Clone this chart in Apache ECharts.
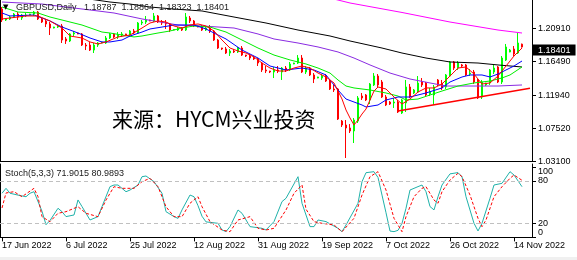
<!DOCTYPE html>
<html><head><meta charset="utf-8">
<script src="https://cdn.jsdelivr.net/npm/echarts@6/dist/echarts.min.js"></script>
<style>html,body{margin:0;padding:0;background:#fff;overflow:hidden}#c{width:577px;height:260px}</style>
</head><body><div id="c"></div>
<script>
const symbolName = 'GBPUSD,Daily';
const openP = [1.2349,1.2202,1.2216,1.2242,1.2282,1.2229,1.2256,1.2269,1.2282,1.2309,1.2216,1.2189,1.2149,1.2095,1.2108,1.2122,1.1948,1.1921,1.2015,1.2028,1.2015,1.1867,1.1867,1.1800,1.1867,1.1894,1.1894,1.1961,1.2015,1.1974,1.2001,1.2015,1.2001,1.2055,1.2028,1.2162,1.2175,1.2202,1.2189,1.2256,1.2175,1.2162,1.2149,1.2068,1.2068,1.2095,1.2068,1.2229,1.2189,1.2122,1.2108,1.2068,1.2095,1.2055,1.1934,1.1827,1.1814,1.1760,1.1787,1.1774,1.1827,1.1733,1.1720,1.1693,1.1680,1.1626,1.1533,1.1519,1.1506,1.1533,1.1506,1.1559,1.1533,1.1613,1.1626,1.1693,1.1506,1.1559,1.1466,1.1425,1.1425,1.1452,1.1385,1.1278,1.1278,1.0849,1.0796,1.0756,1.0716,1.0849,1.1184,1.1198,1.1131,1.1332,1.1452,1.1372,1.1171,1.1104,1.1091,1.1104,1.0957,1.1091,1.1305,1.1225,1.1238,1.1372,1.1358,1.1211,1.1198,1.1399,1.1358,1.1305,1.1452,1.1640,1.1559,1.1600,1.1600,1.1479,1.1506,1.1399,1.1171,1.1332,1.1358,1.1506,1.1573,1.1372,1.1666,1.1774,1.1814,1.1760,1.18787];
const closeP = [1.2202,1.2216,1.2242,1.2282,1.2242,1.2269,1.2269,1.2282,1.2309,1.2216,1.2175,1.2149,1.2095,1.2108,1.2122,1.1934,1.1921,1.2015,1.2028,1.2015,1.1867,1.1854,1.1800,1.1867,1.1894,1.1907,1.1961,1.2015,1.1974,1.2001,1.2015,1.2001,1.2055,1.2028,1.2162,1.2175,1.2202,1.2189,1.2256,1.2175,1.2162,1.2149,1.2068,1.2075,1.2095,1.2068,1.2242,1.2189,1.2122,1.2108,1.2068,1.2095,1.2055,1.1934,1.1827,1.1814,1.1760,1.1787,1.1774,1.1827,1.1733,1.1720,1.1693,1.1680,1.1626,1.1533,1.1519,1.1506,1.1533,1.1519,1.1559,1.1533,1.1613,1.1626,1.1693,1.1506,1.1559,1.1466,1.1412,1.1439,1.1452,1.1385,1.1278,1.1265,1.0876,1.0796,1.0756,1.0716,1.0863,1.1158,1.1158,1.1131,1.1345,1.1452,1.1332,1.1171,1.1064,1.1077,1.1104,1.0970,1.1131,1.1305,1.1171,1.1265,1.1358,1.1332,1.1198,1.1238,1.1305,1.1332,1.1292,1.1466,1.1640,1.1559,1.1626,1.1586,1.1466,1.1492,1.1372,1.1158,1.1372,1.1358,1.1533,1.1559,1.1372,1.1693,1.1841,1.1800,1.1747,1.1894,1.18401];
const highP = [1.2376,1.2220,1.2256,1.2296,1.2309,1.2282,1.2296,1.2285,1.2323,1.2323,1.2229,1.2216,1.2175,1.2112,1.2135,1.2149,1.1974,1.2028,1.2055,1.2030,1.2028,1.1894,1.1907,1.1894,1.1907,1.1910,1.1988,1.2028,1.2028,1.2041,1.2041,1.2018,1.2068,1.2082,1.2175,1.2202,1.2256,1.2205,1.2296,1.2269,1.2202,1.2202,1.2162,1.2078,1.2108,1.2108,1.2296,1.2256,1.2202,1.2125,1.2135,1.2122,1.2135,1.2068,1.1948,1.1830,1.1841,1.1814,1.1814,1.1841,1.1854,1.1736,1.1747,1.1720,1.1693,1.1640,1.1586,1.1522,1.1573,1.1586,1.1573,1.1586,1.1640,1.1630,1.1733,1.1733,1.1586,1.1573,1.1492,1.1442,1.1479,1.1479,1.1412,1.1332,1.1292,1.0863,1.0863,1.0809,1.0890,1.1184,1.1225,1.1211,1.1358,1.1492,1.1479,1.1399,1.1198,1.1117,1.1158,1.1131,1.1144,1.1399,1.1345,1.1278,1.1452,1.1425,1.1372,1.1292,1.1332,1.1412,1.1399,1.1479,1.1653,1.1653,1.1653,1.1613,1.1613,1.1546,1.1533,1.1412,1.1399,1.1362,1.1546,1.1600,1.1586,1.1720,1.1881,1.1814,1.1854,1.2028,1.18864];
const lowP = [1.2175,1.2189,1.2202,1.2229,1.2202,1.2202,1.2242,1.2266,1.2256,1.2202,1.2162,1.2108,1.2001,1.2090,1.2095,1.1894,1.1881,1.1907,1.1988,1.2012,1.1854,1.1800,1.1787,1.1760,1.1841,1.1890,1.1881,1.1948,1.1961,1.1948,1.1974,1.1998,1.1988,1.2015,1.2015,1.2135,1.2149,1.2186,1.2175,1.2162,1.2135,1.2082,1.2041,1.2065,1.2055,1.2055,1.2055,1.2162,1.2108,1.2105,1.2055,1.2055,1.2028,1.1921,1.1814,1.1800,1.1747,1.1720,1.1760,1.1760,1.1720,1.1707,1.1666,1.1666,1.1586,1.1506,1.1492,1.1492,1.1425,1.1492,1.1399,1.1506,1.1519,1.1610,1.1613,1.1492,1.1479,1.1452,1.1358,1.1422,1.1399,1.1372,1.1265,1.1238,1.0863,1.0769,1.0354,1.0689,1.0555,1.0823,1.1131,1.1117,1.1077,1.1318,1.1305,1.1158,1.1050,1.1064,1.1024,1.0957,1.0943,1.0970,1.1158,1.1211,1.1225,1.1305,1.1184,1.1184,1.1064,1.1318,1.1265,1.1278,1.1439,1.1533,1.1533,1.1573,1.1452,1.1452,1.1345,1.1144,1.1144,1.1318,1.1332,1.1479,1.1358,1.1345,1.1653,1.1770,1.1720,1.1747,1.18323];

// moving averages: [bar index, price]
const maRed = [[0,1.2216],[2,1.2229],[6,1.2256],[9,1.2256],[12,1.2189],[15,1.2095],[17,1.1988],[20,1.1961],[22,1.1908],[24,1.1881],[26,1.1908],[29,1.1975],[32,1.2001],[35,1.2095],[37,1.2162],[39,1.2189],[41,1.2175],[43,1.2122],[45,1.2095],[47,1.2135],[49,1.2149],[51,1.2122],[53,1.2055],[55,1.1934],[57,1.1827],[59,1.1787],[61,1.1760],[63,1.1707],[65,1.1626],[67,1.1559],[69,1.1519],[71,1.1519],[73,1.1559],[75,1.1586],[77,1.1559],[79,1.1492],[81,1.1439],[83,1.1359],[85,1.1144],[86,1.0997],[87,1.0890],[88,1.0796],[89,1.0863],[90,1.0943],[91,1.1010],[92,1.1131],[93,1.1251],[94,1.1305],[96,1.1278],[98,1.1171],[100,1.1077],[102,1.1144],[104,1.1238],[106,1.1292],[108,1.1292],[110,1.1345],[112,1.1452],[114,1.1559],[116,1.1573],[118,1.1479],[120,1.1345],[122,1.1359],[124,1.1452],[126,1.1586],[128,1.1720],[130,1.1827]];
const maBlue = [[0,1.2296],[2,1.2256],[8,1.2269],[12,1.2189],[15,1.2108],[19,1.2028],[22,1.1961],[25,1.1908],[27,1.1908],[30,1.1934],[32,1.1988],[35,1.2041],[37,1.2082],[40,1.2108],[43,1.2135],[45,1.2135],[48,1.2135],[51,1.2082],[54,1.2001],[56,1.1948],[60,1.1800],[64,1.1693],[67,1.1586],[71,1.1533],[75,1.1559],[78,1.1533],[81,1.1466],[84,1.1265],[86,1.1144],[88,1.1104],[90,1.1064],[91,1.1037],[94,1.1064],[96,1.1131],[99,1.1171],[102,1.1171],[104,1.1198],[106,1.1225],[110,1.1292],[112,1.1372],[115,1.1439],[117,1.1466],[120,1.1466],[122,1.1439],[124,1.1479],[126,1.1533],[128,1.1586],[130,1.1653]];
const maGreen = [[0,1.2376],[4,1.2309],[9,1.2296],[12,1.2242],[15,1.2202],[20,1.2135],[25,1.2041],[27,1.2028],[30,1.2001],[33,1.1975],[35,1.1988],[39,1.2028],[42,1.2055],[45,1.2095],[48,1.2122],[52,1.2108],[56,1.2041],[60,1.1934],[64,1.1827],[68,1.1733],[72,1.1667],[76,1.1613],[79,1.1559],[82,1.1492],[84,1.1399],[86,1.1318],[88,1.1292],[92,1.1265],[96,1.1225],[99,1.1184],[101,1.1131],[104,1.1144],[107,1.1198],[110,1.1251],[114,1.1318],[118,1.1359],[122,1.1385],[125,1.1426],[127,1.1466],[130,1.1573]];
const maPurple = [[0,1.2443],[10,1.2416],[16,1.2376],[24,1.2323],[28,1.2296],[35,1.2216],[44,1.2135],[50,1.2122],[58,1.2095],[64,1.2015],[68,1.1948],[74,1.1894],[79,1.1841],[84,1.1774],[88,1.1693],[92,1.1600],[97,1.1492],[102,1.1412],[107,1.1359],[111,1.1318],[117,1.1318],[124,1.1318],[130,1.1332]];
const maBlack = [[20,1.2497],[27,1.2443],[32,1.2416],[37,1.2376],[43,1.2349],[50,1.2323],[58,1.2242],[66,1.2162],[74,1.2068],[82,1.1988],[87,1.1921],[95,1.1827],[100,1.1760],[106,1.1693],[112,1.1640],[119,1.1626],[124,1.1600],[130,1.1573]];
const maMagenta = [[83,1.2483],[87,1.2430],[100,1.2303],[112,1.2175],[124,1.2068],[130,1.2028]];
const trendLine = [[99,1.0984],[132,1.1288]];

// stochastic (5,3,3): [bar index, value]
const stochK = [[0,62.6],[1,69.6],[2,62.6],[4,60],[6,57.7],[7,62.6],[8,64.8],[10,37],[11,18],[12,24],[14,41.3],[15,36.5],[16,29.5],[18,31.8],[19,53.1],[20,43.7],[22,24.7],[24,29.5],[25,43.7],[27,72],[28,74.3],[29,74.3],[31,64.8],[32,67.2],[34,74.3],[35,86.1],[36,87.1],[38,79],[40,62.6],[41,36.5],[43,29.5],[44,27],[45,39],[47,60.1],[48,57.7],[49,45],[50,30],[51,22],[54,20],[55,10.6],[56,8.2],[57,15.3],[59,38.9],[60,34.2],[62,15.3],[65,12.9],[66,10.6],[68,22.4],[70,50.8],[71,55.5],[74,86.1],[75,48.4],[77,15.3],[78,15.3],[79,24.7],[81,22.4],[84,12.9],[85,8.2],[86,17.6],[89,48.4],[90,79],[91,91.8],[93,93.2],[94,85],[95,60],[96,35],[97,9],[98,8.2],[99,10],[100,20],[101,41.3],[102,67.2],[104,72],[105,74.3],[106,64.8],[107,43.7],[108,39],[109,57.7],[110,74.3],[112,90.1],[114,91.9],[115,86.1],[116,57.7],[118,20],[119,9.1],[120,20],[122,55.5],[123,74.3],[125,76.7],[127,93.2],[128,88.5],[130,71.9015]];
const stochD = [[0,41.7],[1,63],[3,64.8],[5,57.7],[8,69.6],[9,57.7],[10,29.4],[12,22.3],[14,34.2],[16,36.5],[19,43.5],[21,34.2],[24,29.4],[26,53],[28,71.9],[30,69.6],[33,69.6],[35,79],[37,83.8],[39,71.9],[41,43.5],[43,29.4],[45,29.4],[47,48.4],[49,57.7],[50,43.5],[52,22.3],[55,10.5],[57,8.1],[59,24.7],[62,29.4],[64,12.9],[66,10.5],[68,12.9],[71,38.9],[73,62.6],[75,74.3],[76,40],[78,22.3],[80,20],[83,17.6],[85,8.1],[88,27.1],[90,60.1],[92,86.1],[94,93.2],[96,67.2],[98,27.1],[100,8.1],[101,29.4],[103,57.7],[105,69.6],[106,71.9],[108,53],[109,48.4],[110,64.8],[112,81.4],[114,90.9],[115,86.1],[117,60.1],[119,27.1],[120,15.2],[121,24.7],[123,57.7],[125,71.9],[127,83.8],[128,88.5],[130,80.9893]];
const stochLabel = 'Stoch(5,3,3)';
const stochLevels = [80, 20];
const stochTicks = [0, 20, 80, 100];
const priceTicks = [1.2091, 1.1649, 1.1194, 1.0752, 1.0310];
const dateLabels = ['17 Jun 2022','6 Jul 2022','25 Jul 2022','12 Aug 2022','31 Aug 2022','19 Sep 2022','7 Oct 2022','26 Oct 2022','14 Nov 2022'];
const watermark = '来源：HYCM兴业投资';

// daily bars (Sunday bars included, no Saturday), from 17 Jun 2022
const monthNames = ['Jan','Feb','Mar','Apr','May','Jun','Jul','Aug','Sep','Oct','Nov','Dec'];
const categories = [];
let t = Date.UTC(2022, 5, 17);
while (categories.length < 133) {
  const d = new Date(t);
  if (d.getUTCDay() !== 6) categories.push(d.getUTCDate() + ' ' + monthNames[d.getUTCMonth()] + ' ' + d.getUTCFullYear());
  t += 86400000;
}

const n = openP.length;
const last = n - 1;
const candles = openP.map((o, i) => [o, closeP[i], lowP[i], highP[i]]);
const FONT = 'Liberation Sans';
const showDate = (idx, val) => dateLabels.indexOf(val) >= 0;

const chart = echarts.init(document.getElementById('c'), null, {renderer: 'canvas'});
const line = (data, color, extra) => Object.assign({
  type: 'line', data: data, xAxisIndex: 0, yAxisIndex: 0, showSymbol: false, symbol: 'none',
  connectNulls: true, silent: true, animation: false, lineStyle: {color: color, width: 1}, z: 3
}, extra || {});

chart.setOption({
  animation: false,
  backgroundColor: '#ffffff',
  title: [
    {text: '{tri|▼}   ' + symbolName + '   ' + [openP[last], highP[last], lowP[last], closeP[last]].map(v => v.toFixed(5)).join('  '),
     left: 3, top: 3, padding: 0, z: 20,
     textStyle: {fontFamily: FONT, fontSize: 9, fontWeight: 'normal', color: '#1a1a1a',
       rich: {tri: {fontSize: 7, color: '#000', fontFamily: 'DejaVu Sans'}}}},
    {text: stochLabel + ' ' + stochK[stochK.length - 1][1].toFixed(4) + ' ' + stochD[stochD.length - 1][1].toFixed(4),
     left: 5, top: 169, padding: 0, z: 20,
     textStyle: {fontFamily: FONT, fontSize: 9, fontWeight: 'normal', color: '#1a1a1a'}},
    {text: watermark, left: 112, top: 109, padding: 0, z: 20,
     textStyle: {fontFamily: 'Noto Sans CJK SC', fontSize: 21, fontWeight: 'normal', color: '#000'}}
  ],
  graphic: [{type: 'rect', left: 0, top: 257, shape: {width: 577, height: 3}, style: {fill: '#f0f0f0'}, silent: true}],
  grid: [
    {left: 0, top: 0, width: 532, height: 161.3, outerBoundsMode: 'none', containLabel: false},
    {left: 0, top: 164, width: 532, height: 73.4, outerBoundsMode: 'none', containLabel: false}
  ],
  xAxis: [
    {type: 'category', gridIndex: 0, data: categories, boundaryGap: true,
     axisLine: {show: true, lineStyle: {color: '#000', width: 1}}, axisTick: {show: false}, axisLabel: {show: false}, splitLine: {show: false}},
    {type: 'category', gridIndex: 1, data: categories, boundaryGap: true, position: 'bottom',
     axisLine: {show: true, lineStyle: {color: '#000', width: 1}},
     axisTick: {show: true, interval: showDate, alignWithLabel: true, length: 4, lineStyle: {color: '#000'}},
     axisLabel: {show: true, interval: showDate, align: 'left', margin: 4, fontFamily: FONT, fontSize: 9, color: '#000'},
     splitLine: {show: false}},
    {type: 'category', gridIndex: 1, data: categories, boundaryGap: true, position: 'top',
     axisLine: {show: true, lineStyle: {color: '#000', width: 1}}, axisTick: {show: false}, axisLabel: {show: false}, splitLine: {show: false}}
  ],
  yAxis: [
    {type: 'value', gridIndex: 0, position: 'right', min: 1.031, max: 1.247, scale: true,
     axisLine: {show: true, lineStyle: {color: '#000'}},
     axisTick: {show: true, length: 4, customValues: priceTicks, lineStyle: {color: '#000'}},
     axisLabel: {show: true, customValues: priceTicks, margin: 6, fontFamily: FONT, fontSize: 9, color: '#000', formatter: v => v.toFixed(5)},
     splitLine: {show: false}},
    {type: 'value', gridIndex: 0, position: 'left', min: 1.031, max: 1.247, scale: true,
     axisLine: {show: true, lineStyle: {color: '#000'}}, axisTick: {show: false}, axisLabel: {show: false}, splitLine: {show: false}},
    {type: 'value', gridIndex: 1, position: 'right', min: 0, max: 104.1,
     axisLine: {show: true, lineStyle: {color: '#000'}},
     axisTick: {show: true, length: 4, customValues: stochTicks, lineStyle: {color: '#000'}},
     axisLabel: {show: true, customValues: stochTicks, margin: 6, fontFamily: FONT, fontSize: 9, color: '#000',
       verticalAlignMaxLabel: 'top', verticalAlignMinLabel: 'bottom'},
     splitLine: {show: false}},
    {type: 'value', gridIndex: 1, position: 'left', min: 0, max: 104.1,
     axisLine: {show: true, lineStyle: {color: '#000'}}, axisTick: {show: false}, axisLabel: {show: false}, splitLine: {show: false}}
  ],
  series: [
    {type: 'candlestick', name: 'GBPUSD', data: candles, xAxisIndex: 0, yAxisIndex: 0, barWidth: 2, silent: true, z: 2,
     itemStyle: {color: '#00ff00', color0: '#ff0000', borderColor: '#00ff00', borderColor0: '#ff0000', borderColorDoji: '#00ff00', borderWidth: 1}},
    line(maMagenta, '#ff00ff'),
    line(maBlack, '#000000'),
    line(maPurple, '#8a2be2'),
    line(maGreen, '#00ee00'),
    line(maBlue, '#0000ff'),
    line(maRed, '#ff0000'),
    line(trendLine, '#ff0000', {lineStyle: {color: '#ff0000', width: 1.5}, clip: false,
      markLine: {silent: true, symbol: 'none', animation: false,
        lineStyle: {color: 'rgba(0,0,0,0)', width: 0},
        label: {show: true, position: 'end', distance: 1, formatter: closeP[last].toFixed(5),
          backgroundColor: '#000', color: '#fff', fontFamily: FONT, fontSize: 9, padding: [1, 5, 1, 5]},
        data: [{yAxis: closeP[last]}]}}),
    {type: 'line', data: stochK, xAxisIndex: 1, yAxisIndex: 2, showSymbol: false, symbol: 'none', connectNulls: true, silent: true,
     lineStyle: {color: '#20b2aa', width: 1}, z: 3,
     markLine: {silent: true, symbol: 'none', animation: false, label: {show: false},
       lineStyle: {color: '#c0c0c0', type: [4, 3], width: 1},
       data: stochLevels.map(v => ({yAxis: v}))}},
    {type: 'line', data: stochD, xAxisIndex: 1, yAxisIndex: 2, showSymbol: false, symbol: 'none', connectNulls: true, silent: true,
     lineStyle: {color: '#ff0000', width: 1, type: [3, 2]}, z: 4}
  ]
});
</script>
</body></html>
